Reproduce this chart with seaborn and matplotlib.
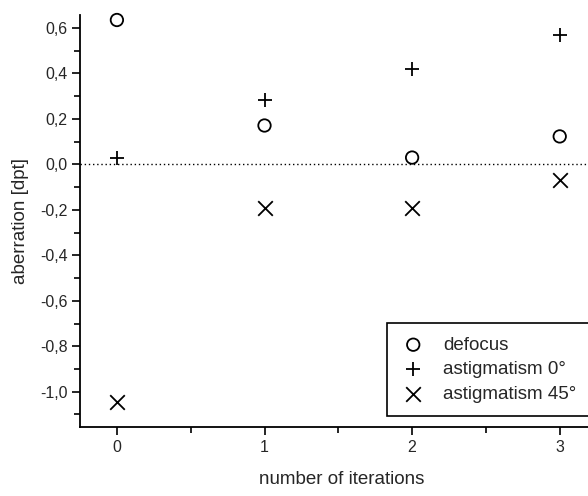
import matplotlib
matplotlib.use("Agg")
import matplotlib.pyplot as plt
import matplotlib.ticker as mticker
import seaborn as sns
import pandas as pd

# aberration per iteration
iterations = [0, 1, 2, 3]
defocus = [0.635, 0.171, 0.030, 0.123]
astig_0 = [0.026, 0.285, 0.420, 0.567]
astig_45 = [-1.046, -0.193, -0.193, -0.070]

series = [
    ("defocus", defocus, "o"),
    ("astigmatism 0°", astig_0, "+"),
    ("astigmatism 45°", astig_45, "x"),
]

sns.set_style("ticks")
plt.rcParams["font.family"] = ["Liberation Sans", "DejaVu Sans"]

fig = plt.figure(figsize=(5.88, 4.96), dpi=100)
ax = fig.add_axes([80 / 588, 69 / 496, 524 / 588, 412 / 496])

for name, vals, mk in series:
    df = pd.DataFrame({"iteration": iterations, "aberration": vals})
    if mk == "o":
        sns.scatterplot(data=df, x="iteration", y="aberration", ax=ax, label=name,
                        marker="o", s=80, facecolor="none", edgecolor="black",
                        linewidth=1.3, clip_on=False)
    else:
        sns.scatterplot(data=df, x="iteration", y="aberration", ax=ax, label=name,
                        marker=mk, s=110, color="black", linewidth=1.3, clip_on=False)

ax.axhline(0, color="black", ls=(0, (1, 2)), lw=1, zorder=0)

ax.set_xlim(-0.25, 3.3)
ax.set_ylim(-1.155, 0.657)
ax.xaxis.set_major_locator(mticker.MultipleLocator(1))
ax.xaxis.set_minor_locator(mticker.MultipleLocator(0.5))
ax.yaxis.set_major_locator(mticker.MultipleLocator(0.2))
ax.yaxis.set_minor_locator(mticker.MultipleLocator(0.1))
ax.yaxis.set_major_formatter(mticker.FuncFormatter(
    lambda v, p: f"{v:.1f}".replace(".", ",").replace("-0,0", "0,0")))
ax.tick_params(which="major", length=6, width=1.2, labelsize=11.5, direction="out",
               color="black", pad=3)
ax.tick_params(which="minor", length=4, width=1.2, direction="out", color="black")

for side in ["top", "right"]:
    ax.spines[side].set_visible(False)
for side in ["left", "bottom"]:
    ax.spines[side].set_linewidth(1.3)
    ax.spines[side].set_color("black")

ax.set_xlabel("number of iterations", fontsize=13.5, labelpad=12)
ax.set_ylabel("aberration [dpt]", fontsize=13.5, labelpad=8)

# legend box runs past the right edge of the figure, as in the reference
leg = ax.legend(loc="lower left", bbox_to_anchor=(387 / 588, 80 / 496, 230 / 588, 0.3),
                bbox_transform=fig.transFigure, mode="expand",
                fontsize=13.5, frameon=True, fancybox=False, edgecolor="black",
                handletextpad=0.89, borderpad=0.7, labelspacing=0.4, handlelength=1.4,
                borderaxespad=0)
leg.get_frame().set_linewidth(1.2)
leg.get_frame().set_alpha(1)

fig.savefig("out.png", dpi=100)
